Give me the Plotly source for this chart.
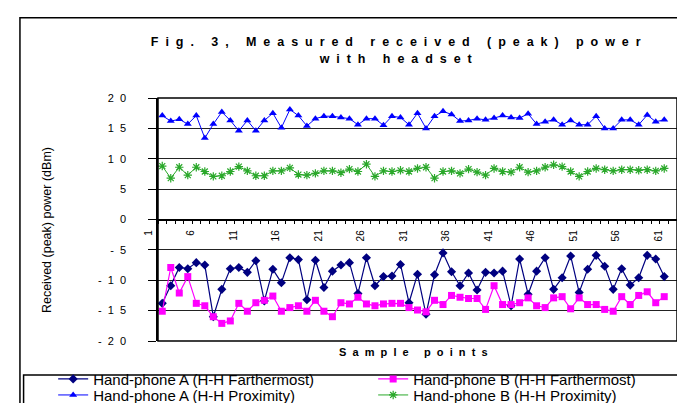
import plotly.graph_objects as go

# sample index (60 measured points on a 1..61 category axis)
samples = list(range(1, 61))

a_farthermost = [-13.8, -10.9, -7.9, -8.1, -7.1, -7.5, -16.0, -11.5, -8.1, -7.9,
                 -8.7, -6.8, -13.4, -8.2, -10.4, -6.3, -6.6, -13.2, -6.7, -11.2,
                 -8.5, -7.5, -7.1, -12.2, -6.3, -10.9, -9.4, -9.3, -7.4, -13.7,
                 -9.0, -15.6, -9.1, -5.5, -8.6, -10.9, -8.8, -11.6, -8.7, -8.8,
                 -8.5, -14.2, -6.5, -12.3, -8.5, -6.3, -11.5, -9.6, -6.0, -12.0,
                 -8.2, -5.9, -7.7, -11.5, -8.1, -10.8, -9.6, -5.9, -6.5, -9.4]

b_farthermost = [-15.1, -7.9, -12.1, -9.4, -13.8, -14.2, -16.0, -17.1, -16.7, -13.8,
                 -15.1, -13.7, -13.3, -12.6, -15.1, -14.5, -14.2, -15.1, -13.3, -15.1,
                 -16.0, -13.7, -13.9, -12.8, -13.9, -14.2, -13.9, -13.8, -13.8, -14.5,
                 -14.9, -15.2, -13.3, -14.0, -12.5, -12.8, -13.0, -13.0, -14.8, -10.9,
                 -14.0, -14.0, -13.7, -12.9, -14.2, -14.5, -12.9, -12.7, -14.7, -12.9,
                 -14.0, -14.0, -14.8, -15.1, -12.7, -14.0, -12.5, -11.9, -13.7, -12.7]

a_proximity = [17.1, 16.2, 16.5, 15.7, 17.1, 13.4, 15.7, 17.7, 16.3, 14.6,
               16.3, 14.6, 16.3, 17.5, 15.1, 18.1, 17.1, 15.4, 16.6, 17.0,
               17.0, 16.8, 16.6, 15.6, 16.6, 16.6, 15.5, 17.0, 16.8, 15.6,
               17.5, 15.0, 17.0, 17.8, 17.3, 16.2, 16.3, 16.6, 16.4, 16.7,
               17.1, 16.8, 16.7, 17.4, 15.7, 16.1, 16.4, 15.6, 16.3, 15.6,
               15.6, 17.0, 15.0, 15.0, 16.4, 16.4, 15.6, 17.2, 16.1, 16.4]

b_proximity = [8.8, 6.8, 8.6, 7.3, 8.6, 7.9, 7.1, 7.2, 7.9, 8.7,
               8.0, 7.2, 7.2, 8.0, 8.0, 8.5, 7.4, 7.3, 7.6, 8.0,
               8.0, 7.7, 8.3, 7.9, 9.1, 7.1, 8.0, 7.9, 8.1, 7.9,
               8.4, 8.6, 6.8, 7.9, 8.0, 7.6, 8.3, 7.8, 7.3, 8.4,
               7.9, 7.8, 8.6, 7.8, 8.0, 8.6, 9.0, 8.7, 7.9, 7.1,
               7.9, 8.4, 8.2, 8.0, 8.2, 8.2, 8.1, 8.2, 8.0, 8.4]

x_labels = [1, 6, 11, 16, 21, 26, 31, 36, 41, 46, 51, 56, 61]
y_ticks = [-20, -15, -10, -5, 0, 5, 10, 15, 20]

NB = "\u00a0"


def spaced(s, gap=2, word=5):
    # imitate the wide letter spacing of the original
    return (NB * word).join((NB * gap).join(w) for w in s.split(" "))


FONT = "Liberation Sans, Arial, sans-serif"

fig = go.Figure()
fig.add_trace(go.Scatter(x=samples, y=a_farthermost, mode="lines+markers",
                         name="Hand-phone A (H-H Farthermost)", legend="legend",
                         line=dict(color="#000080", width=1.2),
                         marker=dict(symbol="diamond", size=7, color="#000080")))
fig.add_trace(go.Scatter(x=samples, y=b_farthermost, mode="lines+markers",
                         name="Hand-phone B (H-H Farthermost)", legend="legend",
                         line=dict(color="#ff00ff", width=1.2),
                         marker=dict(symbol="square", size=7, color="#ff00ff")))
fig.add_trace(go.Scatter(x=samples, y=a_proximity, mode="lines+markers",
                         name="Hand-phone A (H-H Proximity)", legend="legend2",
                         line=dict(color="#0000ff", width=1),
                         marker=dict(symbol="triangle-up", size=7, color="#0000ff")))
fig.add_trace(go.Scatter(x=samples, y=b_proximity, mode="lines+markers",
                         name="Hand-phone B (H-H Proximity)", legend="legend2",
                         line=dict(color="#2aa82a", width=1),
                         marker=dict(symbol="asterisk", size=7, color="#2aa82a",
                                     line=dict(color="#2aa82a", width=1.2))))

legend_style = dict(orientation="h", x=-0.202, xanchor="left", yanchor="middle",
                    entrywidth=275, entrywidthmode="pixels", font=dict(size=15),
                    bgcolor="rgba(0,0,0,0)", tracegroupgap=0)

fig.update_layout(
    width=685, height=403,
    margin=dict(l=150, r=16, t=90, b=70, autoexpand=False),
    paper_bgcolor="white", plot_bgcolor="white",
    font=dict(family=FONT, color="black"),
    title=dict(text=spaced("Fig. 3, Measured received (peak) power") + "<br>" + spaced("with headset"),
               x=0.566, xanchor="center", y=0.905, yanchor="top",
               font=dict(size=12.5, family=FONT, weight="bold")),
    showlegend=True,
    legend=dict(y=-0.157, **legend_style),
    legend2=dict(y=-0.223, **legend_style),
    xaxis=dict(range=[0.5, 61.5], anchor="free", position=0.5,
               showline=True, linecolor="black", linewidth=1.5,
               showgrid=False, zeroline=False,
               tickmode="array", tickvals=x_labels, ticktext=[str(v) for v in x_labels],
               ticks="", tickangle=-90, ticklabelshift=-14, ticklabelstandoff=6,
               tickfont=dict(size=10),
               minor=dict(tickmode="array", tickvals=[k + 0.5 for k in range(0, 62)],
                          ticks="outside", ticklen=4, tickcolor="black", tickwidth=1,
                          showgrid=False)),
    yaxis=dict(range=[-20, 20], tickmode="array", tickvals=y_ticks,
               ticktext=[spaced(str(v)) for v in y_ticks],
               showline=True, linecolor="black", linewidth=1.5,
               ticks="outside", ticklen=8, tickcolor="black",
               ticklabelstandoff=20, tickfont=dict(size=11),
               showgrid=True, gridcolor="#222222", gridwidth=1, zeroline=False),
)

# plot area frame, outer chart border and legend box
fig.add_shape(type="rect", xref="paper", yref="paper", x0=0, x1=1, y0=0, y1=1,
              line=dict(color="black", width=1.5))
fig.add_shape(type="rect", xref="paper", yref="paper", x0=-0.266, x1=1.021, y0=-0.33, y1=1.33,
              line=dict(color="black", width=1.5))
fig.add_shape(type="rect", xref="paper", yref="paper", x0=-0.259, x1=1.04, y0=-0.33, y1=-0.14,
              line=dict(color="black", width=1.5))

fig.add_annotation(text="Received (peak) power (dBm)", textangle=-90,
                   xref="paper", yref="paper", x=-0.231, y=0.457, showarrow=False,
                   font=dict(size=12.5))
fig.add_annotation(text=spaced("Sample points"), xref="paper", yref="paper",
                   x=0.493, y=-0.078, showarrow=False,
                   font=dict(size=11, weight="bold"))

fig.write_html("out.html")
